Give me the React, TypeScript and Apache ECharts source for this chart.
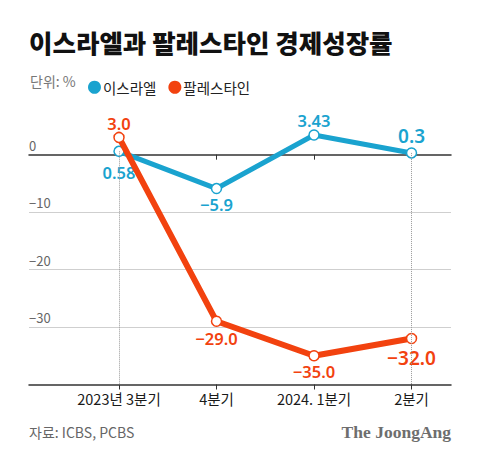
import React, { useEffect, useRef } from "react";
import * as echarts from "echarts";

const categories = ["2023년 3분기", "4분기", "2024. 1분기", "2분기"];
const israel = [0.58, -5.9, 3.43, 0.3];
const palestine = [3.0, -29.0, -35.0, -32.0];
const israelLabels = ["0.58", "−5.9", "3.43", "0.3"];
const palestineLabels = ["3.0", "−29.0", "−35.0", "−32.0"];
const yTicks = [-40, -30, -20, -10, 0, 10];

const BLUE = "#1aa3cf";
const RED = "#f2420f";
const FONT = "'Noto Sans CJK KR', 'Noto Sans', sans-serif";

export default function App() {
  const ref = useRef<HTMLDivElement>(null);
  useEffect(() => {
    if (!ref.current) return;
    const chart = echarts.init(ref.current, null, { renderer: "svg" });
    const isrPos = ["bottom", "bottom", "top", "top"];
    const isrDist = [7, 2, 0, 2];
    const palPos = ["top", "bottom", "bottom", "bottom"];
    const palDist = [0, 3, 1, 4];
    const isrData = israel.map((v, i) => ({
      value: [i, v],
      label: {
        show: true,
        position: isrPos[i],
        distance: isrDist[i],
        formatter: israelLabels[i],
        fontSize: i === 3 ? 19 : 16.5,
      },
    }));
    const palData = palestine.map((v, i) => ({
      value: [i, v],
      label: {
        show: true,
        position: palPos[i],
        distance: palDist[i],
        formatter: palestineLabels[i],
        fontSize: i === 3 ? 19 : 16.5,
      },
    }));
    const xMin = -0.923;
    const xMax = 3.405;
    chart.setOption({
      animation: false,
      textStyle: { fontFamily: FONT },
      legend: {
        left: 83,
        top: 75,
        itemWidth: 13,
        itemHeight: 13,
        itemGap: 12,
        icon: "circle",
        textStyle: { fontSize: 14.5, color: "#222", padding: [0, 0, 0, -3] },
        data: [
          { name: "이스라엘", itemStyle: { color: BLUE, borderWidth: 0 } },
          { name: "팔레스타인", itemStyle: { color: RED, borderWidth: 0 } },
        ],
      },
      graphic: [
        {
          type: "text",
          left: 29,
          top: 29,
          style: {
            text: "이스라엘과 팔레스타인 경제성장률",
            fontSize: 25.5,
            fontWeight: 900,
            fontFamily: FONT,
            fill: "#111",
          },
        },
        {
          type: "text",
          left: 30,
          top: 74,
          style: { text: "단위: %", fontSize: 14, fontFamily: FONT, fill: "#777" },
        },
        {
          type: "text",
          left: 29,
          top: 425,
          style: { text: "자료: ICBS, PCBS", fontSize: 14, fontFamily: FONT, fill: "#666" },
        },
        {
          type: "text",
          right: 29,
          top: 423,
          style: {
            text: "The JoongAng",
            fontSize: 17.5,
            fontWeight: "bold",
            fontFamily: "'Liberation Serif', 'DejaVu Serif', serif",
            fill: "#6e6e6e",
          },
        },
      ],
      grid: { left: 29, right: 29, top: 97.2, bottom: 76.5 },
      xAxis: [
        {
          type: "value",
          min: xMin,
          max: xMax,
          position: "bottom",
          axisLine: { onZero: true, lineStyle: { color: "#333", width: 1.5 } },
          axisTick: { show: true, customValues: [1, 2], length: 5, lineStyle: { color: "#333" } },
          axisLabel: { show: false },
          splitLine: { show: false },
        },
        {
          type: "value",
          min: xMin,
          max: xMax,
          position: "bottom",
          axisLine: { onZero: false, lineStyle: { color: "#333", width: 1.5 } },
          axisTick: { show: true, customValues: [0, 1, 2, 3], length: 5, lineStyle: { color: "#333" } },
          axisLabel: {
            show: true,
            customValues: [0, 1, 2, 3],
            formatter: (v: number) => categories[Math.round(v)] ?? "",
            fontSize: 14.5,
            color: "#1a1a1a",
            margin: 7,
          },
          splitLine: { show: false },
        },
      ],
      yAxis: {
        type: "value",
        min: -40,
        max: 10,
        interval: 10,
        axisLine: { show: false },
        axisTick: { show: false },
        axisLabel: {
          inside: true,
          margin: 0,
          align: "left",
          verticalAlign: "bottom",
          padding: [0, 0, 3, 0],
          color: "#666",
          fontSize: 13,
          formatter: (v: number) =>
            v === -40 || v === 10 ? "" : v < 0 ? "−" + -v : String(v),
        },
        splitLine: {
          show: true,
          lineStyle: {
            color: yTicks.map((t) => (t === -40 || t === 0 || t === 10 ? "rgba(0,0,0,0)" : "#cfcfcf")),
            width: 1,
          },
        },
      },
      series: [
        {
          name: "이스라엘",
          type: "line",
          data: isrData,
          color: BLUE,
          lineStyle: { width: 5, color: BLUE },
          symbol: "circle",
          symbolSize: 10,
          itemStyle: { color: "#fff", borderColor: BLUE, borderWidth: 1.5 },
          label: { color: BLUE, fontWeight: 600, fontFamily: "'Noto Sans', sans-serif" },
          markLine: {
            silent: true,
            symbol: "none",
            label: { show: false },
            lineStyle: { type: "dotted", color: "#999", width: 1 },
            data: [
              [{ coord: [0, israel[0]] }, { coord: [0, -40] }],
              [{ coord: [3, israel[3]] }, { coord: [3, -40] }],
            ],
          },
          z: 3,
        },
        {
          name: "팔레스타인",
          type: "line",
          data: palData,
          color: RED,
          lineStyle: { width: 6, color: RED },
          symbol: "circle",
          symbolSize: 10,
          itemStyle: { color: "#fff", borderColor: RED, borderWidth: 1.5 },
          label: { color: RED, fontWeight: 600, fontFamily: "'Noto Sans', sans-serif" },
          z: 4,
        },
      ],
    });
    return () => chart.dispose();
  }, []);
  return <div ref={ref} style={{ width: 480, height: 461, position: "absolute", left: 0, top: 0 }} />;
}
